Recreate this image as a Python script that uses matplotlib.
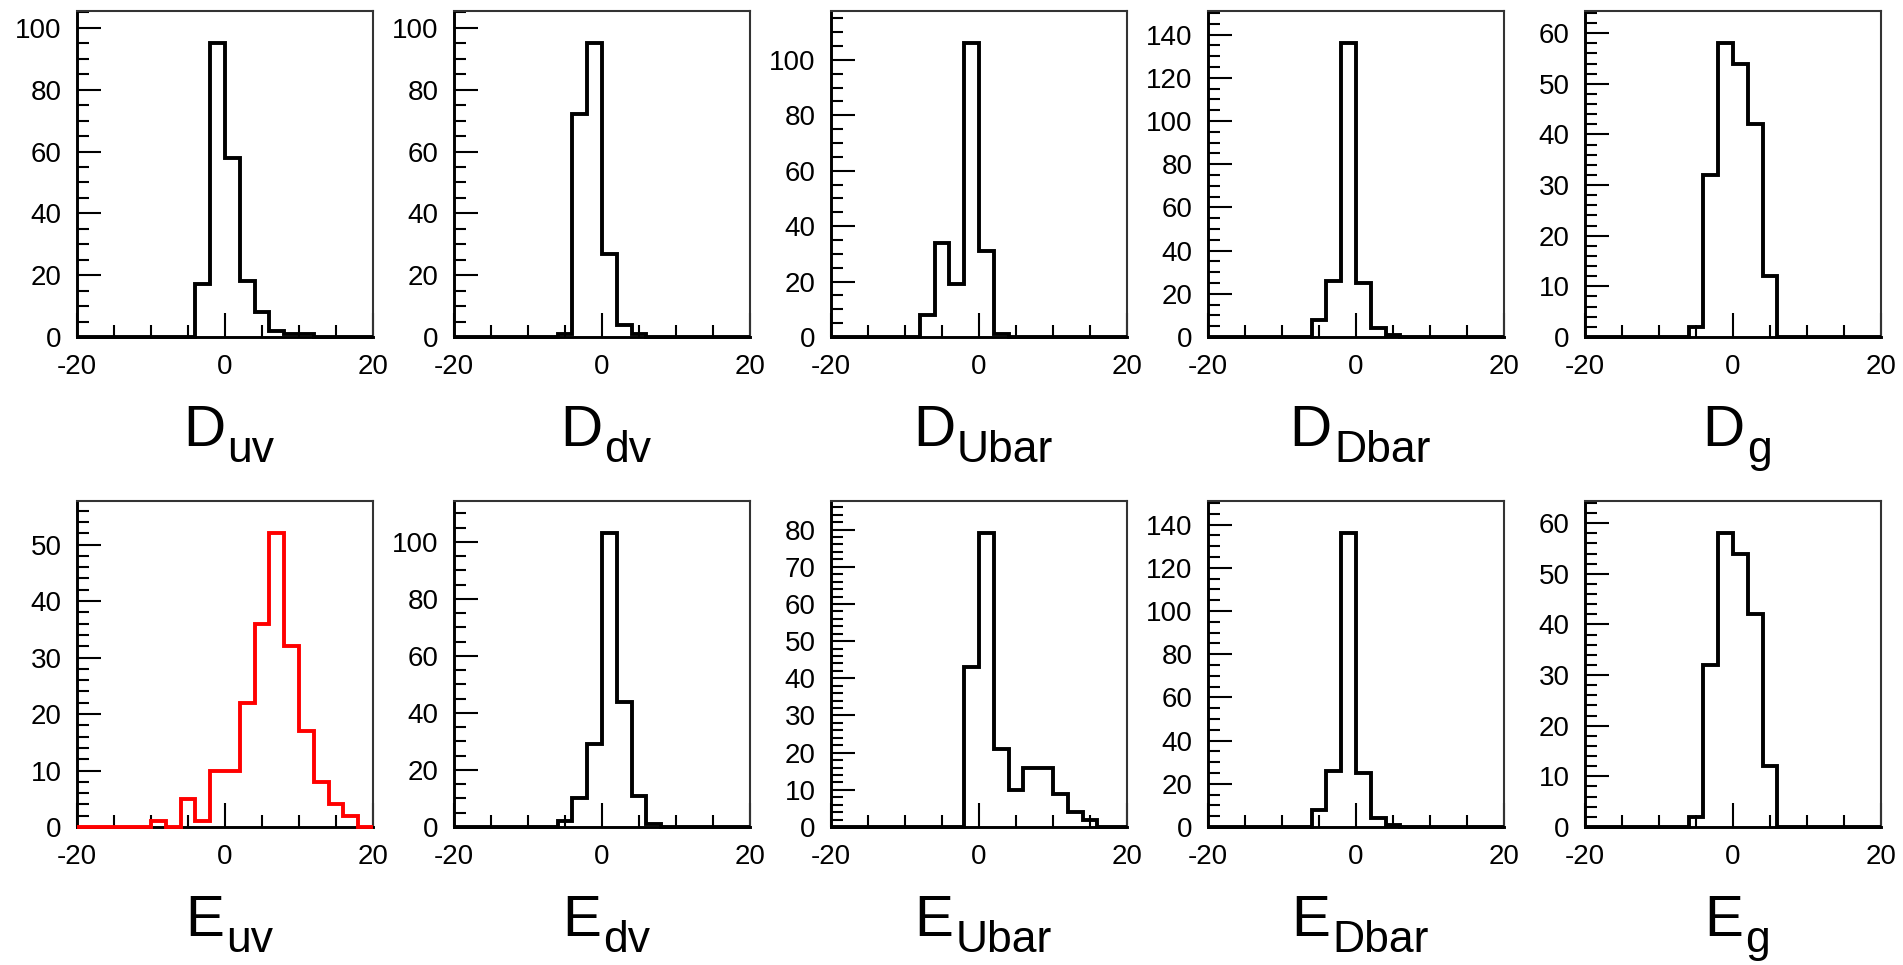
#!/usr/bin/env python3

import matplotlib
matplotlib.use('Agg')
import matplotlib.pyplot as plt
import numpy as np
from matplotlib.ticker import MultipleLocator, FixedLocator

plt.rcParams['font.family'] = ['Liberation Sans', 'DejaVu Sans']
plt.rcParams['axes.unicode_minus'] = False

# bins of width 2 from -20 to 20
bin_edges = np.arange(-20, 21, 2)

d_uv = [0, 0, 0, 0, 0, 0, 0, 0, 17, 95, 58, 18, 8, 2, 1, 1, 0, 0, 0, 0]
d_dv = [0, 0, 0, 0, 0, 0, 0, 1, 72, 95, 27, 4, 1, 0, 0, 0, 0, 0, 0, 0]
d_ubar = [0, 0, 0, 0, 0, 0, 8, 34, 19, 106, 31, 1, 0, 0, 0, 0, 0, 0, 0, 0]
d_dbar = [0, 0, 0, 0, 0, 0, 0, 8, 26, 136, 25, 4, 1, 0, 0, 0, 0, 0, 0, 0]
d_g = [0, 0, 0, 0, 0, 0, 0, 2, 32, 58, 54, 42, 12, 0, 0, 0, 0, 0, 0, 0]

e_uv = [0, 0, 0, 0, 0, 1, 0, 5, 1, 10, 10, 22, 36, 52, 32, 17, 8, 4, 2, 0]
e_dv = [0, 0, 0, 0, 0, 0, 0, 2, 10, 29, 103, 44, 11, 1, 0, 0, 0, 0, 0, 0]
e_ubar = [0, 0, 0, 0, 0, 0, 0, 0, 0, 43, 79, 21, 10, 16, 16, 9, 4, 2, 0, 0]
e_dbar = [0, 0, 0, 0, 0, 0, 0, 8, 26, 136, 25, 4, 1, 0, 0, 0, 0, 0, 0, 0]
e_g = [0, 0, 0, 0, 0, 0, 0, 2, 32, 58, 54, 42, 12, 0, 0, 0, 0, 0, 0, 0]

params = ['D', 'E']
flavours = ['uv', 'dv', 'Ubar', 'Dbar', 'g']
series = [[d_uv, d_dv, d_ubar, d_dbar, d_g],
          [e_uv, e_dv, e_ubar, e_dbar, e_g]]
highlight = ('E', 'uv')

W, H = 1903, 965
col_left = [77, 454, 831, 1208, 1585]
row_top = [11, 501]
ax_w, ax_h = 296, 326


def style_axis(ax, ymax):
    ax.set_xlim(-20, 20)
    ax.set_ylim(0, ymax)
    ax.xaxis.set_major_locator(FixedLocator([-20, 0, 20]))
    ax.xaxis.set_minor_locator(MultipleLocator(5))
    step = 20 if ymax > 100 else 10
    ax.yaxis.set_major_locator(MultipleLocator(step))
    ax.yaxis.set_minor_locator(MultipleLocator(step / 4 if step == 20 else 2))
    ax.tick_params(which='both', direction='in', top=False, right=False,
                   width=1.5, color='black')
    ax.tick_params(which='major', length=17, labelsize=20)
    ax.tick_params(axis='y', which='major', pad=11)
    ax.tick_params(axis='x', which='major', pad=12)
    ax.tick_params(which='minor', length=8.5)
    for side in ('left', 'bottom'):
        ax.spines[side].set_linewidth(2.1)
        ax.spines[side].set_color('black')
    for side in ('top', 'right'):
        ax.spines[side].set_linewidth(1.5)
        ax.spines[side].set_color('#333333')


def main():
    fig = plt.figure(figsize=(W / 100, H / 100), dpi=100)
    labels = []
    for r, p in enumerate(params):
        for c, fl in enumerate(flavours):
            vals = series[r][c]
            ax = fig.add_axes([col_left[c] / W, 1 - (row_top[r] + ax_h) / H,
                               ax_w / W, ax_h / H])
            colour = 'red' if (p, fl) == highlight else 'black'
            ax.stairs(vals, bin_edges, color=colour, linewidth=2.8,
                      zorder=3, clip_on=False)
            style_axis(ax, 1.11 * max(vals))
            cx = col_left[c] + ax_w / 2 + 4
            base = row_top[r] + ax_h + 109
            t1 = fig.text(0, 0, p, fontsize=42, va='baseline', ha='left')
            t2 = fig.text(0, 0, fl, fontsize=32, va='baseline', ha='left')
            labels.append((t1, t2, cx, base))

    fig.canvas.draw()
    rend = fig.canvas.get_renderer()
    for t1, t2, cx, base in labels:
        w1 = t1.get_window_extent(rend).width
        w2 = t2.get_window_extent(rend).width
        left = cx - (w1 + w2 + 2) / 2
        t1.set_position((left / W, 1 - base / H))
        t2.set_position(((left + w1 + 2) / W, 1 - (base + 16) / H))

    fig.savefig('out.png', dpi=100)


if __name__ == '__main__':
    main()
